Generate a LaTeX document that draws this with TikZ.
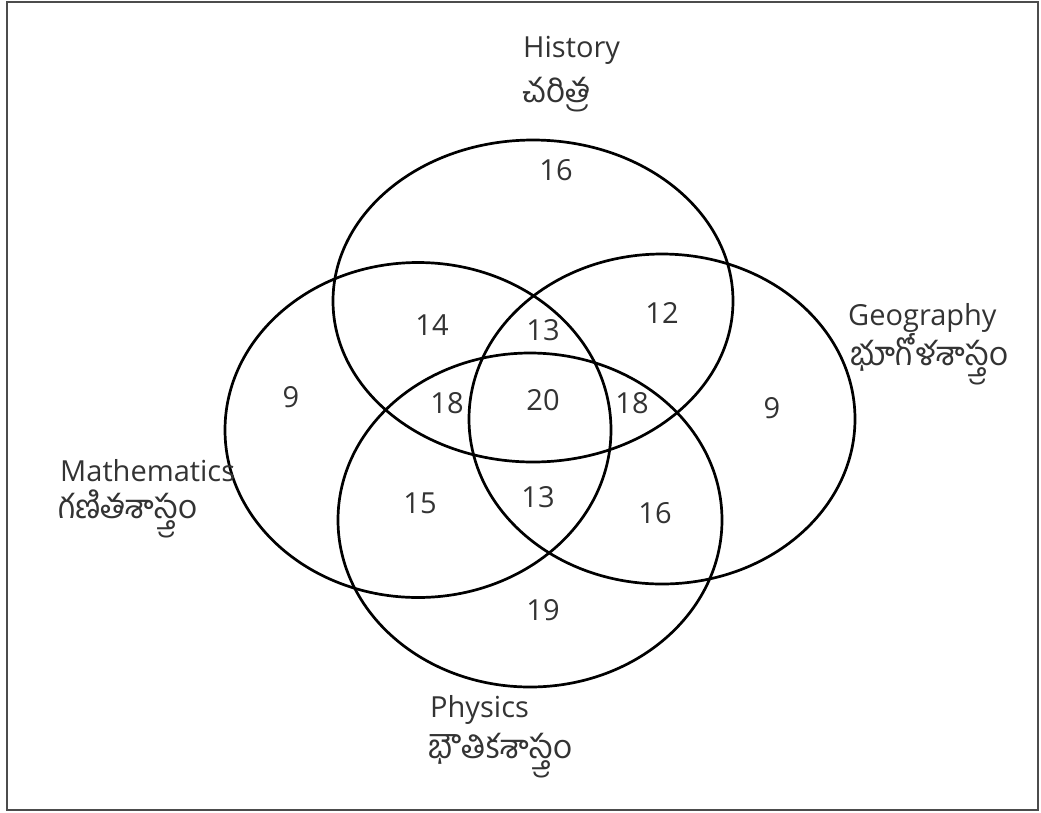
\documentclass[tikz,border=0pt]{standalone}
\usepackage{fontspec}
\setmainfont{Open Sans}
\newfontfamily\tel[Script=Telugu]{Hind Guntur}
\usetikzlibrary{shapes.geometric}
\begin{document}
\begin{tikzpicture}[x=1pt,y=-1pt,
  setring/.style={draw=black, line width=2.7pt, ellipse, inner sep=0pt, minimum width=#1},
  num/.style={text=black!80, font=\fontsize{29}{34}\selectfont, inner sep=0pt},
  lab/.style={text=black!80, font=\fontsize{29}{34}\selectfont, inner sep=0pt, anchor=base west},
  tlab/.style={text=black!80, font=\tel\fontsize{33}{38}\selectfont, inner sep=0pt, anchor=base west}]
\useasboundingbox (0,0) rectangle (1041,812);
\draw[draw=black!70, line width=2pt] (7,2) rectangle (1038,810);
% sets
\node[setring=400pt, minimum height=322pt] (hist) at (533,301) {};
\node[setring=386pt, minimum height=335pt] (math) at (418,430) {};
\node[setring=386pt, minimum height=330pt] (geo) at (662,419) {};
\node[setring=384pt, minimum height=334pt] (phys) at (530,520) {};
% labels
\node[lab] (histL) at (523,57) {History};
\node[tlab] (histT) at (522,102) {చరిత్ర};
\node[lab] (geoL) at (848,325) {Geography};
\node[tlab] (geoT) at (850,365) {భూగోళశాస్త్రం};
\node[lab] (mathL) at (60,481) {Mathematics};
\node[tlab] (mathT) at (58,518) {గణితశాస్త్రం};
\node[lab] (physL) at (430,717) {Physics};
\node[tlab] (physT) at (428,758) {భౌతికశాస్త్రం};
% numbers
\node[num] (n1) at (556,170) {16};
\node[num] (n2) at (432,325) {14};
\node[num] (n3) at (543,330) {13};
\node[num] (n4) at (662,313) {12};
\node[num] (n5) at (291,397) {9};
\node[num] (n6) at (447,403) {18};
\node[num] (n7) at (543,400) {20};
\node[num] (n8) at (632,403) {18};
\node[num] (n9) at (772,408) {9};
\node[num] (n10) at (420,503) {15};
\node[num] (n11) at (538,497) {13};
\node[num] (n12) at (655,513) {16};
\node[num] (n13) at (543,610) {19};
\end{tikzpicture}
\end{document}
